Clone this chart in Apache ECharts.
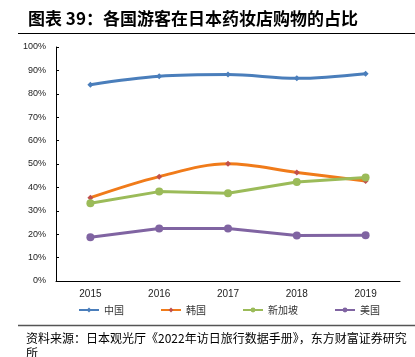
<!DOCTYPE html>
<html><head><meta charset="utf-8">
<script src="https://cdn.jsdelivr.net/npm/echarts@6/dist/echarts.min.js"></script>
<style>html,body{margin:0;padding:0;background:#fff}#c{width:415px;height:357px}</style>
</head><body><div id="c"></div>
<script>
const categories = ['2015','2016','2017','2018','2019'];
const china = [83.9, 87.5, 88.2, 86.6, 88.6];
const korea = [35.6, 44.6, 50.1, 46.4, 42.7];
const singapore = [33.2, 38.2, 37.5, 42.3, 44.2];
const usa = [18.7, 22.4, 22.4, 19.4, 19.5];
const seriesNames = ['中国','韩国','新加坡','美国'];
const titleText = '图表 39：各国游客在日本药妆店购物的占比';
const sourceText = '资料来源：日本观光厅《2022年访日旅行数据手册》，东方财富证券研究\n所';

const chart = echarts.init(document.getElementById('c'));
const cjk = '"Noto Sans CJK SC", sans-serif';
const lat = '"Liberation Sans", Arial, sans-serif';
function mk(name, data, color, markerColor, symbol, size, smooth){
  return {name, type:'line', data, smooth, symbol, symbolSize:size,
    lineStyle:{color, width:3}, itemStyle:{color:markerColor, borderWidth:0}, color, z: 3};
}
chart.setOption({
  animation:false,
  graphic:[
    {type:'text', left:28, top:10, style:{text:titleText, font:'bold 17px '+cjk, fill:'#000'}},
    {type:'line', shape:{x1:18,y1:33.5,x2:415,y2:33.5}, style:{stroke:'#000', lineWidth:1}},
    {type:'line', shape:{x1:18,y1:325.5,x2:415,y2:325.5}, style:{stroke:'#555', lineWidth:1.5}},
    {type:'text', left:26, top:331, style:{text:sourceText, font:'12px '+cjk, fill:'#000', lineHeight:15}}
  ],
  grid:{left:56, right:15, top:47, bottom:76, containLabel:false},
  legend:{show:true, orient:'horizontal', left:73, bottom:37, itemGap:36, itemWidth:20, itemHeight:6,
    textStyle:{fontFamily:'"Noto Sans CJK SC"', color:'#333', fontSize:10},
    data:seriesNames},
  xAxis:{type:'category', data:categories, boundaryGap:true,
    axisLine:{lineStyle:{color:'#000', width:1}},
    axisTick:{inside:true, length:3, lineStyle:{color:'#000'}},
    axisLabel:{fontFamily:lat, fontSize:10, color:'#222', margin:8}},
  yAxis:{type:'value', min:0, max:100, interval:10,
    axisLine:{show:true, lineStyle:{color:'#000', width:1}},
    axisTick:{show:true, inside:true, length:3, lineStyle:{color:'#000'}},
    splitLine:{show:false},
    axisLabel:{formatter:'{value}%', fontFamily:lat, fontSize:9, color:'#222', margin:10}},
  series:[
    mk('中国', china, '#4a7ebb', '#4a7ebb', 'diamond', 6, 0.35),
    mk('韩国', korea, '#f07b1a', '#c0504d', 'diamond', 6, 0.35),
    mk('新加坡', singapore, '#9bbb59', '#9bbb59', 'circle', 8, false),
    mk('美国', usa, '#8064a2', '#8064a2', 'circle', 8, false)
  ]
});
</script></body></html>
